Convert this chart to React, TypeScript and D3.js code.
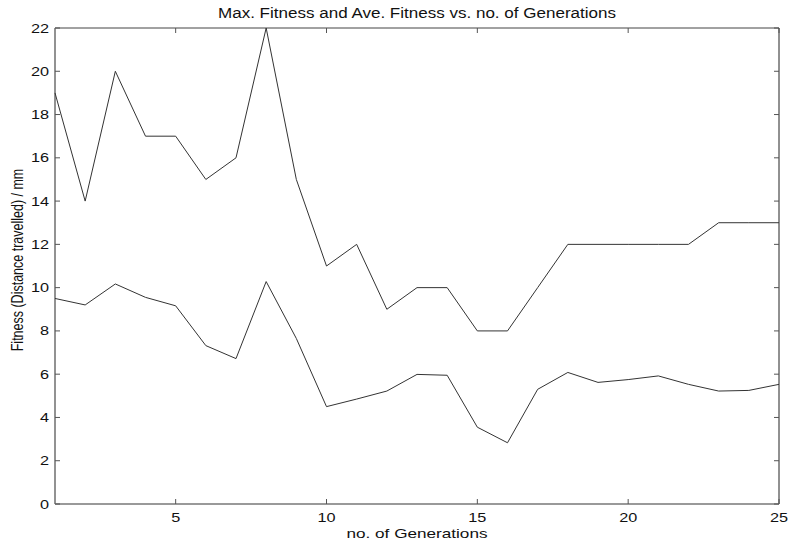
import React from "react";
import * as d3 from "d3";

const generations = d3.range(1, 26);
const maxFitness = [19, 14, 20, 17, 17, 15, 16, 22, 15, 11, 12, 9, 10, 10, 8, 8, 10, 12, 12, 12, 12, 12, 13, 13, 13];
const aveFitness = [9.5, 9.2, 10.17, 9.55, 9.16, 7.32, 6.72, 10.28, 7.65, 4.5, 4.85, 5.22, 5.99, 5.95, 3.55, 2.83, 5.3, 6.08, 5.62, 5.75, 5.92, 5.53, 5.22, 5.25, 5.53];
const xTicks = [5, 10, 15, 20, 25];
const yTicks = d3.range(0, 23, 2);

const W = 788;
const H = 542;
const m = { left: 55, right: 9, top: 28, bottom: 38 };
const font = "'Liberation Sans', Arial, sans-serif";
// the original text looks stretched sideways
const sx = 1.25;

export default function App() {
  const x = d3.scaleLinear().domain([1, 25]).range([m.left, W - m.right]);
  const y = d3.scaleLinear().domain([0, 22]).range([H - m.bottom, m.top]);
  const line = d3
    .line<number>()
    .x((d, i) => x(generations[i]))
    .y(d => y(d));

  const x0 = x.range()[0], x1 = x.range()[1];
  const y0 = y.range()[0], y1 = y.range()[1];

  return (
    <svg width={W} height={H} style={{ position: "absolute", left: 0, top: 0, background: "#fff" }}>
      <rect x={0} y={0} width={W} height={H} fill="#fff" />
      {/* box */}
      <line x1={x0} x2={x1} y1={y1} y2={y1} stroke="#444" strokeWidth={1} />
      <line x1={x1} x2={x1} y1={y1} y2={y0} stroke="#222" strokeWidth={1} />
      <line x1={x0} x2={x1} y1={y0} y2={y0} stroke="#777" strokeWidth={1.6} />
      <line x1={x0} x2={x0} y1={y1} y2={y0} stroke="#777" strokeWidth={1.6} />

      {xTicks.map(t => (
        <g key={"x" + t}>
          <line x1={x(t)} x2={x(t)} y1={y0} y2={y0 - 5} stroke="#555" />
          <line x1={x(t)} x2={x(t)} y1={y1} y2={y1 + 5} stroke="#555" />
          <text
            transform={`translate(${x(t)}, ${y0 + 18}) scale(${sx}, 1)`}
            textAnchor="middle"
            fontSize={13}
            fontFamily={font}
            fill="#111"
          >
            {t}
          </text>
        </g>
      ))}
      {yTicks.map(t => (
        <g key={"y" + t}>
          <line x1={x0} x2={x0 + 5} y1={y(t)} y2={y(t)} stroke="#555" />
          <line x1={x1} x2={x1 - 5} y1={y(t)} y2={y(t)} stroke="#555" />
          <text
            transform={`translate(${x0 - 6}, ${y(t)}) scale(${sx}, 1)`}
            dy="0.35em"
            textAnchor="end"
            fontSize={13}
            fontFamily={font}
            fill="#111"
          >
            {t}
          </text>
        </g>
      ))}

      <path d={line(maxFitness) || ""} fill="none" stroke="#333" strokeWidth={1} />
      <path d={line(aveFitness) || ""} fill="none" stroke="#333" strokeWidth={1} />

      <text
        x={417}
        y={18}
        textAnchor="middle"
        fontSize={14}
        fontFamily={font}
        fill="#111"
        textLength={398}
        lengthAdjust="spacingAndGlyphs"
      >
        Max. Fitness and Ave. Fitness vs. no. of Generations
      </text>
      <text
        x={417}
        y={538}
        textAnchor="middle"
        fontSize={13.5}
        fontFamily={font}
        fill="#111"
        textLength={141}
        lengthAdjust="spacingAndGlyphs"
      >
        no. of Generations
      </text>
      <text
        transform={`translate(23, 260) scale(1.3, 1) rotate(-90)`}
        textAnchor="middle"
        fontSize={12.5}
        fontFamily={font}
        fill="#111"
      >
        Fitness (Distance travelled) / mm
      </text>
    </svg>
  );
}
